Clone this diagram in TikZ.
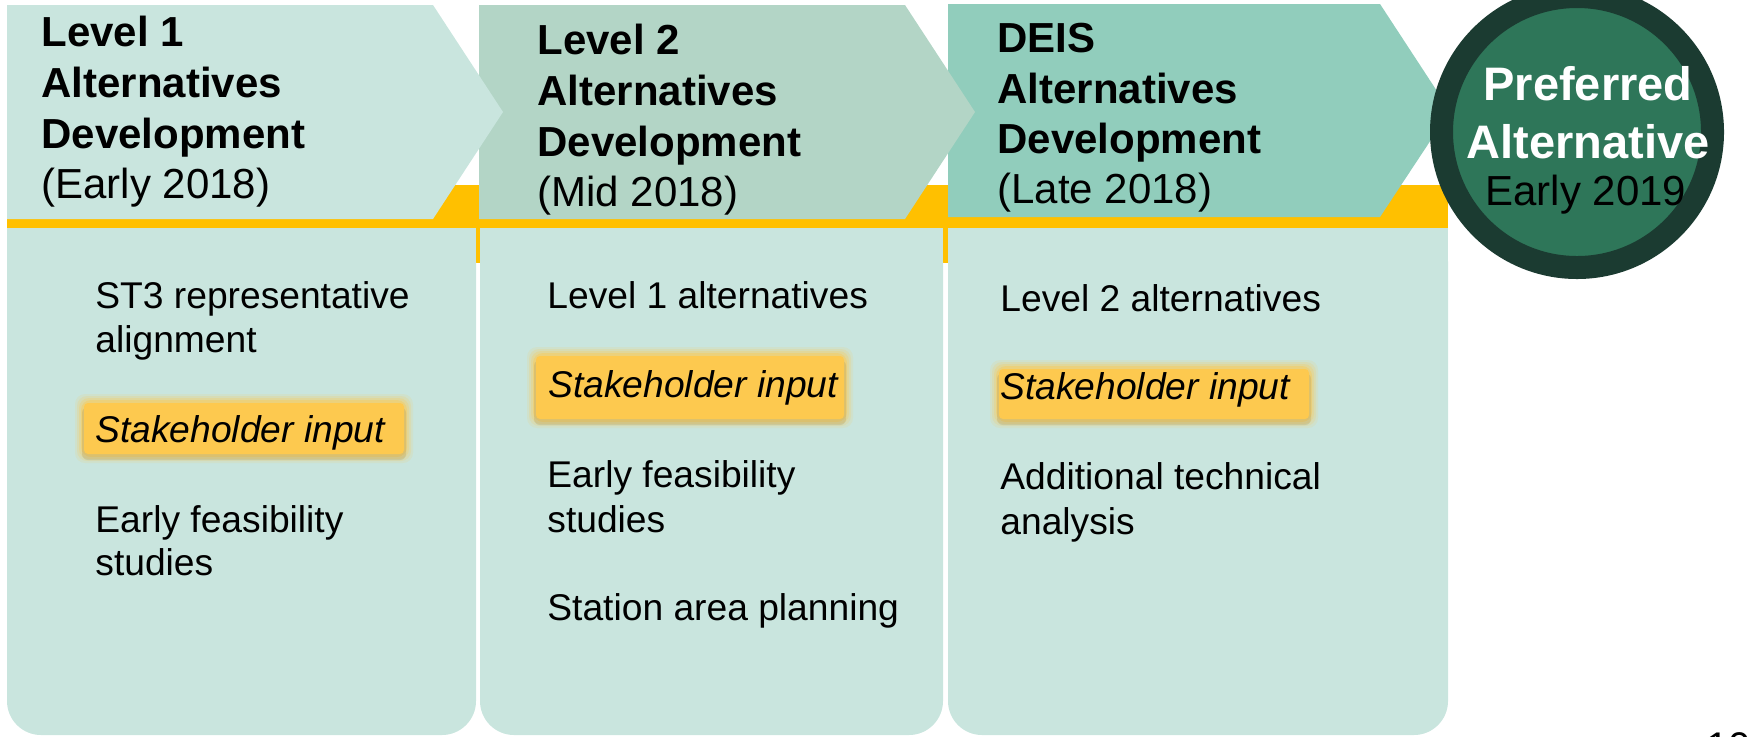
\documentclass[tikz,border=0pt]{standalone}
\usepackage{fontspec}
\setmainfont{Liberation Sans}
\usepackage{xcolor}
\usepackage{tikz}
\definecolor{mintpale}{HTML}{C9E5DE}
\definecolor{mintmid}{HTML}{B3D5C6}
\definecolor{mintdeep}{HTML}{91CDBC}
\definecolor{barsun}{HTML}{FFC000}
\definecolor{ringdark}{HTML}{1B3B31}
\definecolor{discgreen}{HTML}{2E7659}
\definecolor{hlgold}{HTML}{FDC94F}
\tikzset{x=0.5pt, y=-0.5pt,
    head/.style={anchor=base west, inner sep=0pt, font=\fontsize{21}{25}\selectfont\bfseries},
    headdate/.style={anchor=base west, inner sep=0pt, font=\fontsize{21}{25}\selectfont},
    item/.style={anchor=base west, inner sep=0pt, font=\fontsize{18.6}{22}\selectfont},
    hlitem/.style={item, font=\fontsize{18.6}{22}\selectfont\itshape},
    disc/.style={circle, fill=discgreen, draw=ringdark, line width=11.5pt, minimum size=135.5pt, inner sep=0pt},
    disctitle/.style={anchor=base, inner sep=0pt, text=white, font=\fontsize{23.5}{27}\selectfont\bfseries},
    discdate/.style={anchor=base, inner sep=0pt, font=\fontsize{21}{25}\selectfont}}
% soft glowing highlight: x1 y1 x2 y2 of the core
\newcommand{\glowbox}[4]{%
  \foreach \g/\op in {9/0.12, 7/0.18, 5/0.25, 3/0.4}
    \fill[hlgold, opacity=\op, rounded corners=5pt] ({#1-\g},{#2-\g}) rectangle ({#3+\g},{#4+\g});
  \fill[black!50!hlgold, opacity=0.15, rounded corners=3pt] ({#1-2},{#2+4}) rectangle ({#3+2},{#4+6});
  \fill[hlgold, rounded corners=2pt] (#1,#2) rectangle (#3,#4);
}

\begin{document}
\begin{tikzpicture}
    \useasboundingbox (0,0) rectangle (1748,736);
    \clip (0,0) rectangle (1748,736);
    % yellow band behind everything
    \fill[barsun] (7,185) rectangle (1448,263);
    % column boxes, rounded at the bottom only
    \foreach \xa/\xb in {7/476, 480/943, 948/1448} {
      \fill[mintpale, rounded corners=17pt] (\xa,228) rectangle (\xb,735);
      \fill[mintpale] (\xa,228) rectangle (\xb,300);
    }
    % chevrons, right one first
    \fill[mintdeep] (948,4) -- (1380,4) -- (1450,111) -- (1380,217) -- (948,217) -- cycle;
    \fill[mintmid] (479,5) -- (905,5) -- (975,112) -- (905,219) -- (479,219) -- cycle;
    \fill[mintpale] (7,5) -- (433,5) -- (503,112) -- (433,219) -- (7,219) -- cycle;

    \foreach \txt/\yy [count=\i] in {Level 1/46, Alternatives/97, Development/148}
      \node[head] (hA\i) at (41,\yy) {\txt};
    \node[headdate] (hA4) at (41,198) {(Early 2018)};
    \foreach \txt/\yy [count=\i] in {Level 2/54, Alternatives/105, Development/156}
      \node[head] (hB\i) at (537,\yy) {\txt};
    \node[headdate] (hB4) at (537,206) {(Mid 2018)};
    \foreach \txt/\yy [count=\i] in {DEIS/52, Alternatives/103, Development/153}
      \node[head] (hC\i) at (997,\yy) {\txt};
    \node[headdate] (hC4) at (997,203) {(Late 2018)};

    % highlights
    \glowbox{84}{403}{404}{454}
    \glowbox{536}{356}{844}{419}
    \glowbox{999}{369}{1309}{419}

    \foreach \txt/\yy [count=\i] in {ST3 representative/308, alignment/352, Early feasibility/532, studies/575}
      \node[item] (iA\i) at (95,\yy) {\txt};
    \node[hlitem] (sA) at (95,442) {Stakeholder input};
    \foreach \txt/\yy [count=\i] in {Level 1 alternatives/308, Early feasibility/487, studies/532, Station area planning/620}
      \node[item] (iB\i) at (547,\yy) {\txt};
    \node[hlitem] (sB) at (548,397) {Stakeholder input};
    \foreach \txt/\yy [count=\i] in {Level 2 alternatives/311, Additional technical/489, analysis/534}
      \node[item] (iC\i) at (1000,\yy) {\txt};
    \node[hlitem] (sC) at (1000,399) {Stakeholder input};

    % final milestone
    \node[disc] (pref) at (1577,132) {};
    \node[disctitle] (prefA) at (1588,100) {Preferred};
    \node[disctitle] (prefB) at (1588,158) {Alternative};
    \node[discdate] (prefC) at (1586,205) {Early 2019};

    \node[anchor=north west, inner sep=0pt, font=\fontsize{20}{24}\selectfont] (pgnum) at (1706,732) {10};
\end{tikzpicture}
\end{document}
